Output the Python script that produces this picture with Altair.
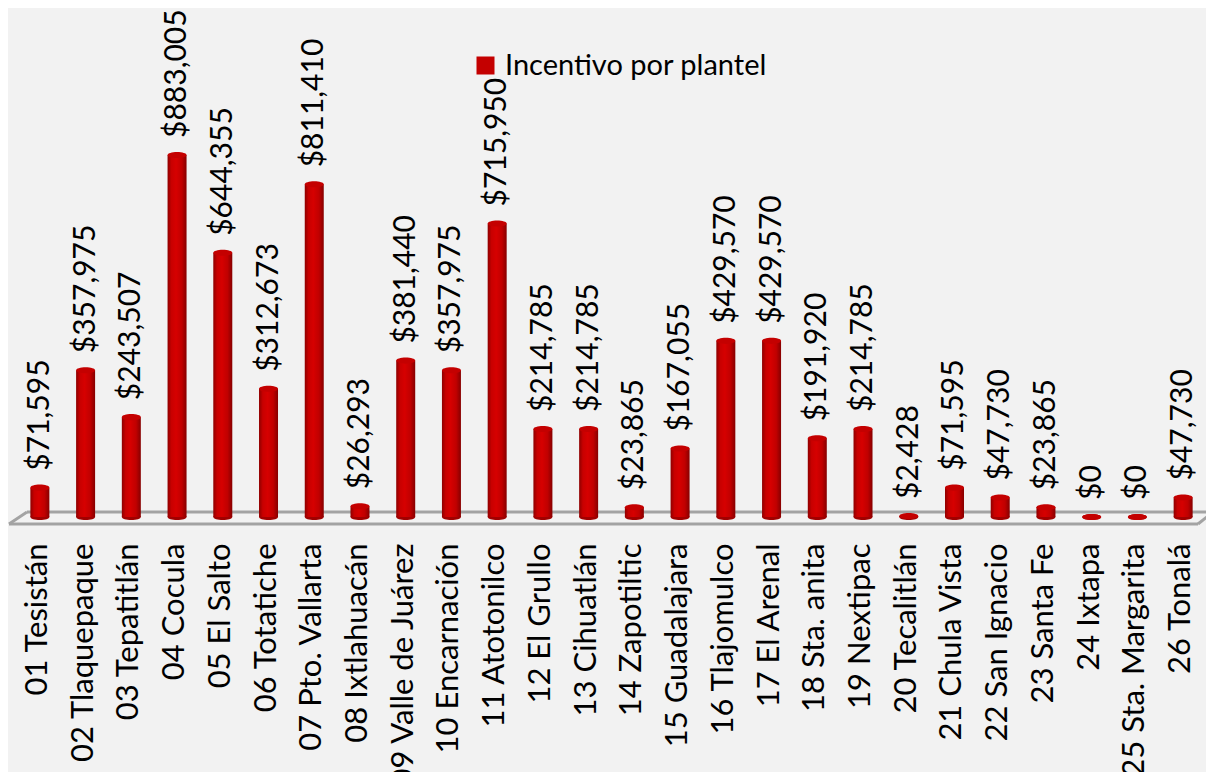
import altair as alt
import pandas as pd

categories = ["01 Tesistán", "02 Tlaquepaque", "03 Tepatitlán", "04 Cocula", "05 El Salto",
              "06 Totatiche", "07 Pto. Vallarta", "08 Ixtlahuacán", "09 Valle de Juárez",
              "10 Encarnación", "11 Atotonilco", "12 El Grullo", "13 Cihuatlán", "14 Zapotiltic",
              "15 Guadalajara", "16 Tlajomulco", "17 El Arenal", "18 Sta. anita", "19 Nextipac",
              "20 Tecalitlán", "21 Chula Vista", "22 San Ignacio", "23 Santa Fe", "24 Ixtapa",
              "25 Sta. Margarita", "26 Tonalá"]
values = [71595, 357975, 243507, 883005, 644355, 312673, 811410, 26293, 381440, 357975,
          715950, 214785, 214785, 23865, 167055, 429570, 429570, 191920, 214785, 2428,
          71595, 47730, 23865, 0, 0, 47730]
series_name = "Incentivo por plantel"

df = pd.DataFrame({"plantel": categories, "valor": values, "serie": series_name})

FONT = "Lato"
ELLIPSE = "M-1,0 A1,0.32,0,1,0,1,0 A1,0.32,0,1,0,-1,0 Z"

x_enc = alt.X("plantel:N", sort=categories,
              scale=alt.Scale(paddingInner=0, paddingOuter=0),
              axis=alt.Axis(title=None, labelAngle=270, labelAlign="right", labelBaseline="middle",
                            domain=False, ticks=False, labelPadding=26, labelFont=FONT,
                            labelFontSize=31, labelColor="#000000", labelLimit=0,
                            labelOverlap=False, labelOffset=-2))
y_scale = alt.Scale(domain=[0, 1217000])

base = alt.Chart(df)

floor_data = alt.Data(values=[{"k": 1}])
floor_col = "#a3a3a3"
floor = alt.layer(
    alt.Chart(floor_data).mark_rule(color=floor_col, strokeWidth=3).encode(
        x=alt.value(10), x2=alt.value(1196), y=alt.value(494), y2=alt.value(494)),
    alt.Chart(floor_data).mark_rule(color=floor_col, strokeWidth=3).encode(
        x=alt.value(-8), x2=alt.value(1181), y=alt.value(506), y2=alt.value(506)),
    alt.Chart(floor_data).mark_rule(color=floor_col, strokeWidth=3).encode(
        x=alt.value(-8), x2=alt.value(10), y=alt.value(506), y2=alt.value(494)),
    alt.Chart(floor_data).mark_rule(color=floor_col, strokeWidth=3).encode(
        x=alt.value(1181), x2=alt.value(1196), y=alt.value(506), y2=alt.value(494)),
)

grad = alt.LinearGradient(
    gradient="linear", x1=0, x2=1, y1=0, y2=0,
    stops=[alt.GradientStop(color="#8e0000", offset=0),
           alt.GradientStop(color="#c80000", offset=0.2),
           alt.GradientStop(color="#d60000", offset=0.45),
           alt.GradientStop(color="#c00000", offset=0.75),
           alt.GradientStop(color="#860000", offset=1)])

bottom_cap = base.mark_point(shape=ELLIPSE, filled=True, size=361, color="#a00000",
                             opacity=1, strokeWidth=0).encode(
    x=x_enc, y=alt.Y("zero:Q", scale=y_scale, axis=None)
).transform_calculate(zero="0")

bars = base.mark_bar(size=19, color=grad).encode(
    x=x_enc,
    y=alt.Y("valor:Q", scale=y_scale, axis=None),
)

top_cap = base.mark_point(shape=ELLIPSE, filled=True, size=361, opacity=1, strokeWidth=0).encode(
    x=x_enc,
    y=alt.Y("valor:Q", scale=y_scale, axis=None),
    color=alt.Color("serie:N", scale=alt.Scale(range=["#c40000"]), title=None,
                    legend=alt.Legend(orient="none", legendX=454, legendY=33, padding=0,
                                      symbolType="square", symbolSize=324,
                                      symbolStrokeWidth=0, symbolOpacity=1,
                                      labelFont=FONT, labelFontSize=29,
                                      labelColor="#000000", labelOffset=5, labelLimit=0)),
)

labels = base.mark_text(angle=270, align="left", baseline="middle", dx=17,
                        font=FONT, fontSize=30, color="#000000").encode(
    x=x_enc,
    y=alt.Y("valor:Q", scale=y_scale, axis=None),
    text=alt.Text("valor:Q", format="$,.0f"),
)

chart = alt.layer(floor, bottom_cap, bars, top_cap, labels).properties(
    width=1189, height=499,
    autosize=alt.AutoSizeParams(type="none"),
    padding={"left": 9, "top": 10, "right": 0, "bottom": 255},
    background="#f2f2f2",
).configure_view(stroke=None)

chart.save("out.html", embed_options={"renderer": "svg", "actions": False})
